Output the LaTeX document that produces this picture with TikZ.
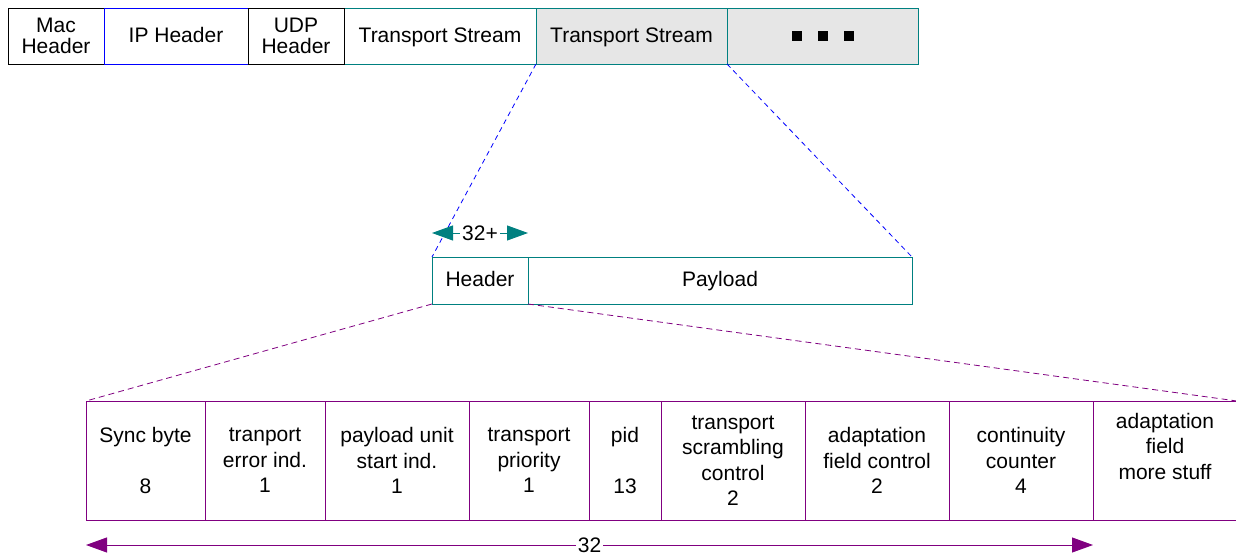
\documentclass[tikz,border=0pt]{standalone}
\usepackage{fontspec}
\setmainfont{Liberation Sans}
\usetikzlibrary{arrows.meta}
\definecolor{tsteal}{RGB}{0,128,128}
\definecolor{fieldpurple}{RGB}{128,0,128}
\definecolor{ipblue}{RGB}{0,0,255}
\definecolor{streamgray}{RGB}{230,230,230}
\tikzset{
  cell/.style={draw, rectangle, inner sep=0pt, outer sep=0pt, line width=0.9pt,
    align=center, minimum height=56pt, font=\fontsize{21}{21.5}\selectfont},
  oneline/.style={text height=15pt, text depth=2.4pt},
  tscell/.style={cell, draw=tsteal},
  field/.style={cell, draw=fieldpurple, minimum height=119pt,
    font=\fontsize{21}{25.5}\selectfont},
  zoomline/.style={dash pattern=on 6pt off 4pt, line width=0.8pt},
  dimline/.style={line width=0.9pt,
    {Triangle[length=21pt,width=15pt]}-{Triangle[length=21pt,width=15pt]}}
}
\begin{document}
\begin{tikzpicture}[x=1pt,y=-1pt]
    \useasboundingbox (0,0) rectangle (1236,556);
    % ip packet
    \node[cell, minimum width=96pt] (mac) at (56,36) {Mac\\Header};
    \node[cell, oneline, draw=ipblue, minimum width=144pt] (ip) at (176,36) {IP Header};
    \node[tscell, oneline, minimum width=192pt] (tsa) at (440,36) {Transport Stream};
    \node[tscell, oneline, fill=streamgray, minimum width=191pt] (tsb) at (631.5,36) {Transport Stream};
    \node[tscell, fill=streamgray, minimum width=191pt] (dots) at (822.5,36)
        {\rule{10pt}{10pt}\hspace{16pt}\rule{10pt}{10pt}\hspace{16pt}\rule{10pt}{10pt}};
    \node[cell, minimum width=96pt] (udp) at (296,36) {UDP\\Header};
    % transport stream packet
    \node[tscell, oneline, minimum width=96pt, minimum height=47pt] (hdr) at (480,280.5) {Header};
    \node[tscell, oneline, minimum width=384pt, minimum height=47pt] (payload) at (720,280.5) {Payload};
    \draw[zoomline, ipblue, dash pattern=on 5pt off 4pt] (tsb.south west) -- (hdr.north west);
    \draw[zoomline, ipblue, dash pattern=on 5pt off 4pt] (tsb.south east) -- (payload.north east);
    \draw[dimline, tsteal] (432,233) coordinate (hl) -- (528,233) coordinate (hr)
        node[midway, fill=white, inner sep=2pt, text=black, font=\fontsize{21}{21}\selectfont] (hbits) {32+};
    % header fields
    \node[field, minimum width=119pt] (sync) at (145.5,460.5) {Sync byte\\ \\8};
    \node[field, minimum width=120pt] (terr) at (265,460.5) {tranport\\error ind.\\1};
    \node[field, minimum width=144pt] (pusi) at (397,460.5) {payload unit\\start ind.\\1};
    \node[field, minimum width=120pt] (prio) at (529,460.5) {transport\\priority\\1};
    \node[field, minimum width=72pt] (pid) at (625,460.5) {pid\\ \\13};
    \node[field, minimum width=144pt] (tsc) at (733,460.5) {transport\\scrambling\\control\\2};
    \node[field, minimum width=144pt] (afc) at (877,460.5) {adaptation\\field control\\2};
    \node[field, minimum width=144pt] (cc) at (1021,460.5) {continuity\\counter\\4};
    \node[field, draw=none, minimum width=144pt] (more) at (1165,462.5) {adaptation\\field\\more stuff\\ \strut};
    \draw[fieldpurple, line width=0.9pt] (cc.north east) -- (more.north east |- cc.north);
    \draw[fieldpurple, line width=0.9pt] (cc.south east) -- (more.south east |- cc.south);
    \draw[zoomline, fieldpurple] (hdr.south west) -- (sync.north west);
    \draw[zoomline, fieldpurple] (hdr.south east) -- (more.east |- cc.north);
    \draw[dimline, fieldpurple] (sync.south west) ++(0,25) coordinate (fl) -- (cc.south east |- fl) coordinate (fr)
        node[midway, fill=white, inner sep=2pt, text=black, font=\fontsize{21}{21}\selectfont] (fbits) {32};
\end{tikzpicture}
\end{document}
